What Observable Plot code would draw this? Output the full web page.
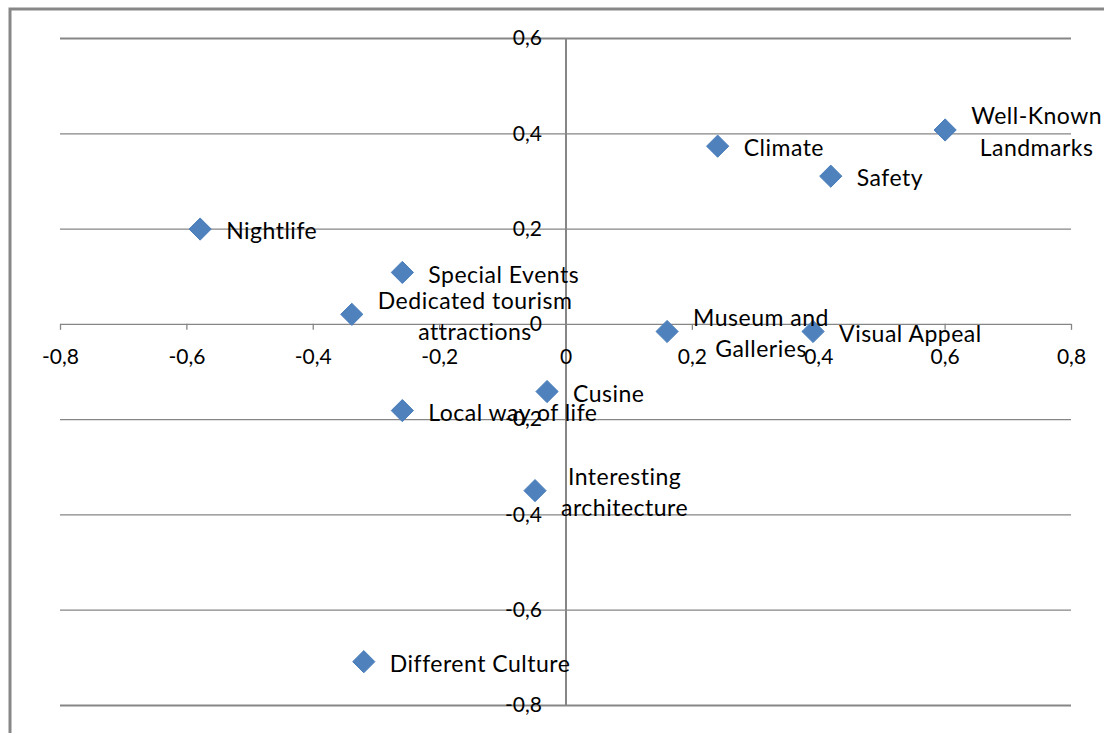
<!DOCTYPE html>
<html>
<head>
<meta charset="utf-8">
<script src="https://cdn.jsdelivr.net/npm/d3@7"></script>
<script src="https://cdn.jsdelivr.net/npm/@observablehq/plot@0.6"></script>
<style>
  html, body { margin: 0; padding: 0; background: #fff; }
  #chart svg { display: block; }
</style>
</head>
<body>
<div id="chart"></div>
<script>
// Data
const labels = [
  "Well-Known\nLandmarks", "Climate", "Safety", "Nightlife", "Special Events",
  "Dedicated tourism\nattractions", "Museum and\nGalleries", "Visual Appeal",
  "Cusine", "Local way of life", "Interesting\narchitecture", "Different Culture"
];
const xValues = [0.600, 0.240, 0.419, -0.579, -0.259, -0.339, 0.160, 0.391, -0.030, -0.259, -0.049, -0.320];
const yValues = [0.408, 0.374, 0.311, 0.200, 0.109, 0.021, -0.015, -0.015, -0.141, -0.181, -0.349, -0.708];
const xTicks = [-0.8, -0.6, -0.4, -0.2, 0, 0.2, 0.4, 0.6, 0.8];
const yTicks = [-0.8, -0.6, -0.4, -0.2, 0, 0.2, 0.4, 0.6];

const points = labels.map((label, i) => ({label, x: xValues[i], y: yValues[i]}));
const fmt = d => d === 0 ? "0" : d.toFixed(1).replace(".", ",");
const grid = "#868686";
const font = "Lato, 'Open Sans', sans-serif";

const chart = Plot.plot({
  width: 1104,
  height: 733,
  marginLeft: 60,
  marginRight: 33,
  marginTop: 38,
  marginBottom: 28,
  x: {domain: [-0.8, 0.8], axis: null},
  y: {domain: [-0.8, 0.6], axis: null},
  style: {fontFamily: font, background: "#fff", overflow: "visible"},
  marks: [
    Plot.frame({stroke: "#878787", strokeWidth: 3, insetLeft: -50.5, insetTop: -29.5, insetRight: -60, insetBottom: -60}),
    Plot.ruleY(yTicks, {y: d => d, stroke: grid, strokeWidth: d => (d === 0.6 || d === -0.8) ? 2 : 1.3, strokeOpacity: 1}),
    Plot.ruleX([0], {x: d => d, stroke: grid, strokeWidth: 2, strokeOpacity: 1}),
    Plot.ruleX(xTicks, {x: d => d, y1: 0, y2: 0, insetBottom: -6, stroke: grid, strokeWidth: 1.3, strokeOpacity: 1}),
    Plot.text(xTicks, {x: d => d, y: 0, dy: 33, text: fmt, fontSize: 21, fill: "#000", textAnchor: "middle"}),
    Plot.text(yTicks, {x: 0, y: d => d, dx: -24, text: fmt, fontSize: 21, fill: "#000", textAnchor: "end"}),
    Plot.dot(points, {x: "x", y: "y", symbol: "diamond2", r: 10, fill: "#4F81BD", stroke: "#4A7EBB", strokeWidth: 1}),
    Plot.text(points, {x: "x", y: "y", text: "label", dx: 26, dy: 0, textAnchor: "start", lineAnchor: "middle", lineHeight: 1.37, fontSize: 23, fill: "#000", className: "pt-label"})
  ]
});

document.getElementById("chart").appendChild(chart);

chart.querySelectorAll(".pt-label text").forEach(t => {
  t.style.letterSpacing = "0.5px";
});

// Center multi-line labels horizontally (as in the reference)
chart.querySelectorAll(".pt-label text").forEach(t => {
  const spans = t.querySelectorAll("tspan");
  if (spans.length > 1) {
    let maxW = 0;
    spans.forEach(s => { maxW = Math.max(maxW, s.getComputedTextLength()); });
    t.setAttribute("text-anchor", "middle");
    spans.forEach(s => s.setAttribute("x", maxW / 2));
  }
});
</script>
</body>
</html>
